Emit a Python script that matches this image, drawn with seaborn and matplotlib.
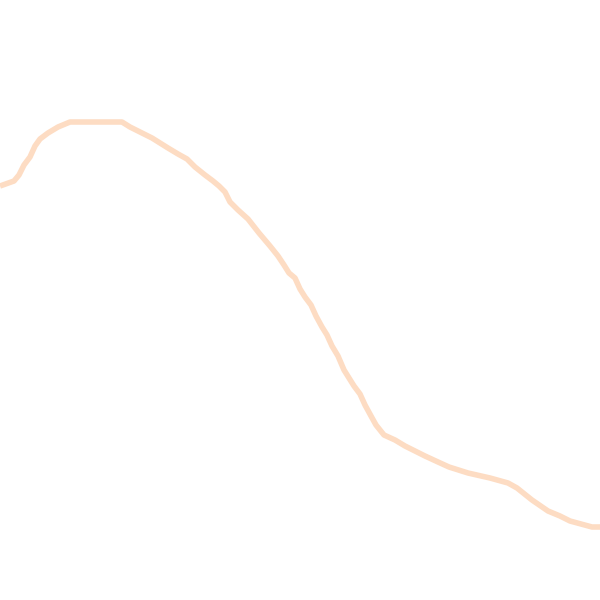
import matplotlib
matplotlib.use("Agg")
import matplotlib.pyplot as plt
import seaborn as sns
import pandas as pd

# curve (x, height above the bottom edge)
x_vals = [0, 14, 19, 24, 30, 35, 40, 48, 58, 70, 95, 122, 130, 140, 152, 168, 178,
          187, 195, 205, 213, 219, 225, 230, 238, 248, 259, 270, 278, 284, 289, 295,
          300, 305, 311, 316, 322, 327, 332, 338, 344, 354, 360, 365, 371, 376, 384,
          395, 405, 415, 425, 438, 449, 468, 490, 508, 517, 532, 548, 560, 570, 592, 600]
y_pix = [186, 181, 175, 165, 157, 146, 139, 133, 127, 122, 122, 122, 127, 132, 138, 148, 154,
         159, 167, 175, 181, 186, 192, 202, 210, 219, 233, 246, 256, 265, 273, 278,
         289, 297, 305, 316, 327, 335, 346, 356, 370, 386, 394, 405, 416, 425, 435,
         440, 446, 451, 456, 462, 467, 473, 478, 483, 488, 500, 511, 516, 521, 527, 527]
y_vals = [600 - v for v in y_pix]

df = pd.DataFrame({"x": x_vals, "y": y_vals})

sns.set_style("white")
fig = plt.figure(figsize=(6, 6), dpi=100)
ax = fig.add_axes([0, 0, 1, 1])

sns.lineplot(data=df, x="x", y="y", sort=False, color="#fddcc3",
             linewidth=4, ax=ax, solid_capstyle="butt")

ax.set_xlim(0, 600)
ax.set_ylim(0, 600)
ax.axis("off")

plt.savefig("out.png", dpi=100)
plt.close()
